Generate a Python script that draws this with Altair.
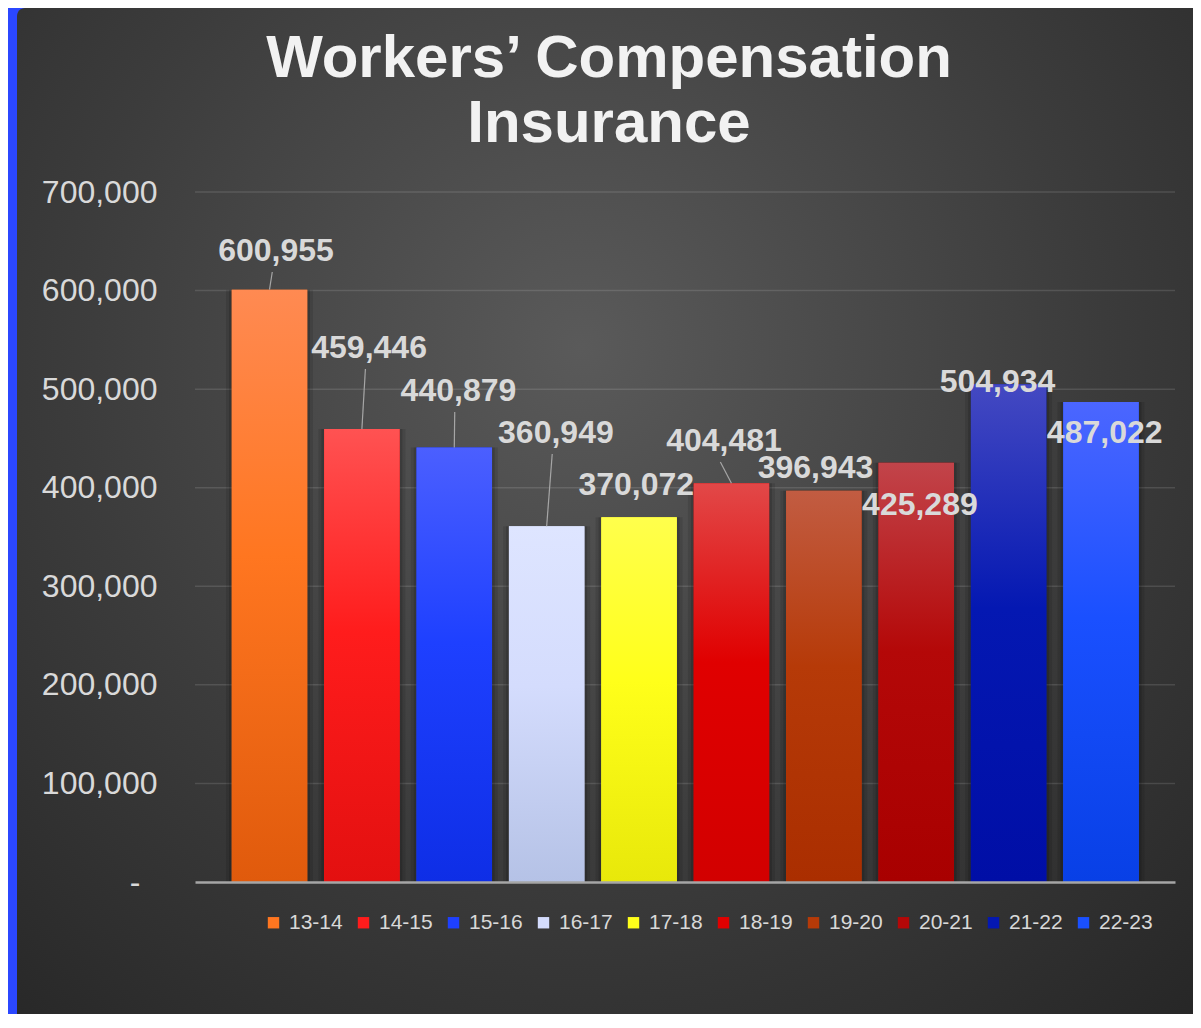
import altair as alt
import pandas as pd

# ---------------- data ----------------
seasons = ["13-14", "14-15", "15-16", "16-17", "17-18",
           "18-19", "19-20", "20-21", "21-22", "22-23"]
values = [600955, 459446, 440879, 360949, 370072,
          404481, 396943, 425289, 504934, 487022]
y_ticks = [0, 100000, 200000, 300000, 400000, 500000, 600000, 700000]

# ---------------- styles ----------------
grad_top = ["#FF8A52", "#FF5252", "#4B5FFF", "#DEE5FF", "#FFFF4C",
            "#E24848", "#C25C42", "#C2444A", "#4449C2", "#4B66FF"]
grad_mid = ["#FF7620", "#FF1C1C", "#1E40FF", "#D4DCFD", "#FFFF1A",
            "#E00000", "#B63A08", "#B40808", "#0418B2", "#1A50FF"]
grad_bot = ["#E05A0C", "#E31010", "#0E2EE6", "#B5C2E6", "#E8E80A",
            "#D20000", "#AA2E00", "#A80000", "#000EA6", "#0840E6"]

# label placement (annotation layout): shift in category steps, baseline in value units
label_shift = [0.07, 0.078, 0.045, 0.10, -0.03, -0.08, -0.09, 0.04, -0.12, 0.04]
label_base = [630000, 531600, 488000, 445400, 392600, 437200, 409850, 372300, 497100, 445400]
has_leader = [True, True, True, True, False, True, False, False, False, False]

W, H = 980, 690
PAD = {"left": 187, "top": 184, "right": 18, "bottom": 132}
TEXT = "#d9d9d9"
FONT = "Liberation Sans"
px_val = 700000 / H

df = pd.DataFrame({"season": seasons, "value": values})
df["pos"] = range(len(seasons))
df["label_x"] = df["pos"] + pd.Series(label_shift)
df["label_y"] = label_base
df["lead_x"] = df["label_x"] - 0.04
df["lead_y"] = df["label_y"] - 11 * px_val
df["leader"] = has_leader

x_scale = alt.Scale(domain=[-0.8064, 9.801], nice=False, zero=False, padding=0)
y_scale = alt.Scale(domain=[0, 700000], nice=False)
x_axis = alt.Axis(labels=False, ticks=False, grid=False, title=None,
                  domainColor="#a6a6a6", domainWidth=2.5, zindex=1)
y_axis = alt.Axis(values=y_ticks,
                  labelExpr="datum.value == 0 ? '-' : format(datum.value, ',')",
                  title=None, domain=False, ticks=False, grid=False, labelFont=FONT,
                  labelFontSize=32, labelColor=TEXT,
                  labelPadding={"condition": {"test": "datum.value == 0", "value": 55},
                                "value": 38},
                  zindex=1)


def X(f):
    return alt.X(f, scale=x_scale, axis=x_axis)


def Y(f):
    return alt.Y(f, scale=y_scale, axis=y_axis)


base = alt.Chart(df)

bg = alt.Chart(pd.DataFrame({"k": [0]})).mark_rect(
    cornerRadiusTopLeft=8,
    fill={"gradient": "radial", "x1": 0.48, "y1": 0.36, "r1": 0,
          "x2": 0.48, "y2": 0.36, "r2": 0.78,
          "stops": [{"offset": 0, "color": "#5a5a5a"},
                    {"offset": 0.55, "color": "#3c3c3c"},
                    {"offset": 1, "color": "#262626"}]},
).encode(x=alt.value(-PAD["left"] + 9), x2=alt.value(W + PAD["right"]),
         y=alt.value(-PAD["top"]), y2=alt.value(H + PAD["bottom"]))

grid = alt.Chart(pd.DataFrame({"tick": y_ticks[1:]})).mark_rule(
    color="#ffffff", opacity=0.12, strokeWidth=1.5
).encode(y=Y("tick:Q"), x=alt.value(0), x2=alt.value(W))

shadow1 = base.mark_bar(size=87, color="black", opacity=0.10).encode(x=X("pos:Q"), y=Y("value:Q"))
shadow2 = base.mark_bar(size=81, color="black", opacity=0.14).encode(x=X("pos:Q"), y=Y("value:Q"))

solid = base.mark_bar(size=75.5).encode(
    x=X("pos:Q"), y=Y("value:Q"),
    color=alt.Color("season:N",
                    scale=alt.Scale(domain=seasons, range=grad_mid),
                    legend=alt.Legend(orient="none", legendX=68, legendY=720,
                                      direction="horizontal", columns=10, title=None,
                                      symbolType="square", symbolSize=130,
                                      symbolStrokeWidth=0,
                                      labelFont=FONT, labelFontSize=21,
                                      labelColor=TEXT, labelOffset=5,
                                      columnPadding=10, padding=0)))

grad_layers = []
for s, t, m, b in zip(seasons, grad_top, grad_mid, grad_bot):
    grad_layers.append(
        base.transform_filter(alt.datum.season == s).mark_bar(
            size=75.5,
            fill={"gradient": "linear", "x1": 0, "y1": 0, "x2": 0, "y2": 1,
                  "stops": [{"offset": 0, "color": t},
                            {"offset": 0.45, "color": m},
                            {"offset": 1, "color": b}]},
        ).encode(x=X("pos:Q"), y=Y("value:Q"))
    )

leaders = base.transform_filter("datum.leader").mark_rule(
    color="#a6a6a6", strokeWidth=1.2
).encode(x=X("pos:Q"), y=Y("value:Q"), x2="lead_x:Q", y2="lead_y:Q")

labels = base.mark_text(
    font=FONT, fontSize=32, fontWeight="bold", color=TEXT,
    align="center", baseline="alphabetic"
).encode(x=X("label_x:Q"), y=Y("label_y:Q"), text=alt.Text("value:Q", format=","))

chart = alt.layer(bg, grid, shadow1, shadow2, solid, *grad_layers, leaders, labels).properties(
    width=W, height=H,
    autosize=alt.AutoSizeParams(type="none"),
    padding=PAD,
    background="#2B47FF",
    title=alt.TitleParams(
        text=["Workers\u2019 Compensation", "Insurance"],
        anchor="middle", frame="group", dx=-76, offset=-194,
        baseline="alphabetic", font=FONT, fontSize=60, fontWeight="bold",
        color="#f2f2f2", lineHeight=65),
).configure_view(stroke=None)

chart.save("out.html", embed_options={"renderer": "svg", "actions": False})
